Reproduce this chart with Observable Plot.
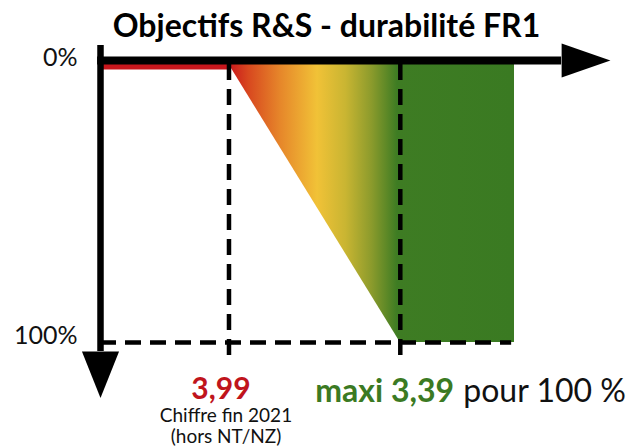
<!DOCTYPE html>
<html><head><meta charset="utf-8">
<script src="https://cdn.jsdelivr.net/npm/d3@7"></script>
<script src="https://cdn.jsdelivr.net/npm/@observablehq/plot@0.6"></script>
<style>body{margin:0;background:#fff;overflow:hidden}</style>
</head><body><div id="chart"></div>
<script>
// ---- data ----
const title = "Objectifs R&S - durabilité FR1";
const yTickValues = [0, 100];
const yTickLabels = ["0%", "100%"];
const currentValue = 3.99;
const targetValue = 3.39;
const currentLabel = "3,99";
const currentNotes = ["Chiffre fin 2021", "(hors NT/NZ)"];
const targetLabel = "maxi 3,39";
const targetSuffix = "pour 100 %";
const axisOrigin = 4.44;   // x value at the vertical axis
const bandEnd = 2.99;      // right end of the coloured band
const xAxisEnd = 2.825;    // end of horizontal shaft
const xArrowTip = 2.654;
const yAxisStart = -6.8;
const yAxisEnd = 103.2;
const yArrowTip = 120;

// ---- derived tables ----
const band = [
  {y: 0, x1: currentValue, x2: bandEnd},
  {y: 100, x1: targetValue, x2: bandEnd}
];
const xHead = [
  {x: xAxisEnd, y: -7.55}, {x: xArrowTip, y: -1.44}, {x: xAxisEnd, y: 4.68}
];
const yHead = [
  {x: axisOrigin + 0.065, y: yAxisEnd}, {x: axisOrigin, y: yArrowTip}, {x: axisOrigin - 0.065, y: yAxisEnd}
];
const ticks = yTickValues.map((v, i) => ({y: v, label: yTickLabels[i]}));
const F = "Lato, 'Open Sans', sans-serif";
const dash = "16,9";

const plot = Plot.plot({
  width: 627,
  height: 448,
  marginLeft: 100,
  marginRight: 113,
  marginTop: 64,
  marginBottom: 106,
  x: {domain: [axisOrigin, bandEnd], axis: null},
  y: {domain: [0, 100], reverse: true, axis: null},
  style: {fontFamily: F, background: "#fff"},
  marks: [
    Plot.areaX(band, {y: "y", x1: "x1", x2: "x2", fill: "url(#grad)"}),
    Plot.ruleY([0], {x1: axisOrigin, x2: currentValue, stroke: "#c8161c", strokeWidth: 6, dy: 2}),
    Plot.ruleX([currentValue, targetValue], {y1: 0, y2: 106.5, stroke: "#000", strokeWidth: 4.5, strokeDasharray: dash}),
    Plot.ruleY([100], {x1: axisOrigin, x2: 3.0, stroke: "#000", strokeWidth: 4.5, strokeDasharray: dash}),
    // axes
    Plot.ruleY([-1.44], {x1: axisOrigin + 0.01, x2: xAxisEnd, stroke: "#000", strokeWidth: 8}),
    Plot.line(xHead, {x: "x", y: "y", fill: "#000", stroke: "none"}),
    Plot.ruleX([axisOrigin], {y1: yAxisStart, y2: yAxisEnd, stroke: "#000", strokeWidth: 6.5}),
    Plot.line(yHead, {x: "x", y: "y", fill: "#000", stroke: "none"}),
    // tick labels
    Plot.text(ticks, {x: axisOrigin, y: "y", text: "label", textAnchor: "end", dx: -23, dy: -6.5, fontSize: 25, fontFamily: F, fill: "#111"}),
    // title
    Plot.text([title], {frameAnchor: "top", lineAnchor: "middle", dx: 19, dy: -37.5, fontSize: 32, fontWeight: "bold", fontFamily: F, fill: "#000"}),
    // value labels
    Plot.text([currentLabel], {x: currentValue, y: 100, dx: -8, dy: 47, fontSize: 30, fontWeight: "bold", fontFamily: F, fill: "#c0141c"}),
    Plot.text([currentNotes.join("\n")], {x: currentValue, y: 100, dx: -3, dy: 83, lineAnchor: "middle", lineHeight: 1.12, fontSize: 19, fontFamily: F, fill: "#111"}),
    Plot.text([targetLabel], {x: targetValue, y: 100, dx: -85, dy: 49.5, textAnchor: "start", fontSize: 32, fontWeight: "bold", fontFamily: F, fill: "#3b7a23"}),
    Plot.text([targetSuffix], {x: targetValue, y: 100, dx: 63, dy: 49.5, textAnchor: "start", fontSize: 32, fontFamily: F, fill: "#111"})
  ]
});

const defs = document.createElementNS("http://www.w3.org/2000/svg", "defs");
defs.innerHTML = `<linearGradient id="grad" x1="0" x2="1" y1="0" y2="0">
  <stop offset="0" stop-color="#c8161c"/>
  <stop offset="0.07" stop-color="#d8481f"/>
  <stop offset="0.18" stop-color="#e6862a"/>
  <stop offset="0.31" stop-color="#f1c237"/>
  <stop offset="0.41" stop-color="#c9b532"/>
  <stop offset="0.50" stop-color="#8c9b2c"/>
  <stop offset="0.59" stop-color="#3e7c23"/>
  <stop offset="1" stop-color="#3a7a22"/>
</linearGradient>`;
plot.insertBefore(defs, plot.firstChild);
document.getElementById("chart").appendChild(plot);
</script>
</body></html>
